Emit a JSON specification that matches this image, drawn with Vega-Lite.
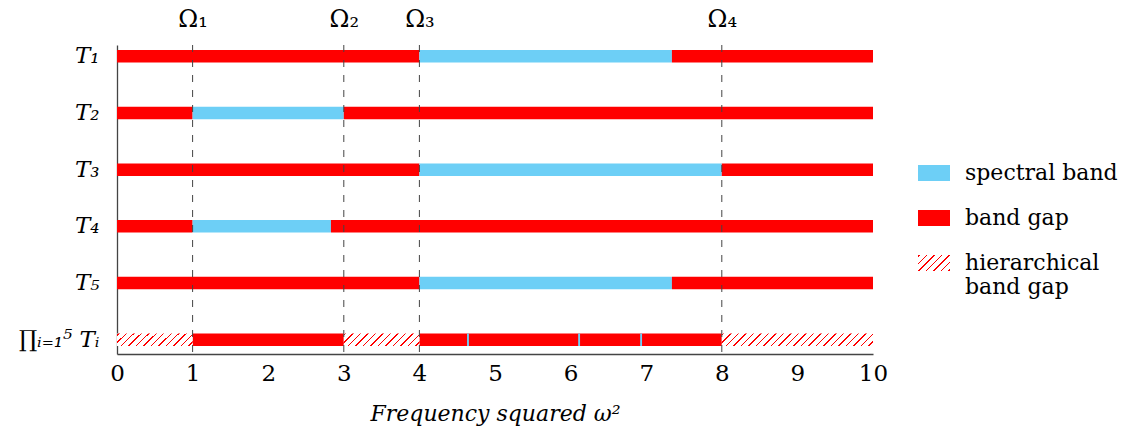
{
  "$schema": "https://vega.github.io/schema/vega-lite/v6.json",
  "width": 756,
  "height": 309,
  "autosize": {"type": "none"},
  "padding": {"left": 117, "top": 45, "right": 260, "bottom": 78},
  "config": {
    "view": {"stroke": null},
    "font": "DejaVu Serif",
    "axis": {"labelFont": "DejaVu Serif", "titleFont": "DejaVu Serif", "labelColor": "#000", "titleColor": "#000", "domainColor": "#444", "domainWidth": 1.3, "grid": false, "ticks": false},
    "legend": {"labelFont": "DejaVu Serif", "titleFont": "DejaVu Serif"}
  },
  "datasets": {
    "segments": [
      {"row": "T₁", "start": 0, "end": 4, "kind": "band gap"},
      {"row": "T₁", "start": 4, "end": 7.34, "kind": "spectral band"},
      {"row": "T₁", "start": 7.34, "end": 10, "kind": "band gap"},
      {"row": "T₂", "start": 0, "end": 1, "kind": "band gap"},
      {"row": "T₂", "start": 1, "end": 3, "kind": "spectral band"},
      {"row": "T₂", "start": 3, "end": 10, "kind": "band gap"},
      {"row": "T₃", "start": 0, "end": 4, "kind": "band gap"},
      {"row": "T₃", "start": 4, "end": 8, "kind": "spectral band"},
      {"row": "T₃", "start": 8, "end": 10, "kind": "band gap"},
      {"row": "T₄", "start": 0, "end": 1, "kind": "band gap"},
      {"row": "T₄", "start": 1, "end": 2.83, "kind": "spectral band"},
      {"row": "T₄", "start": 2.83, "end": 10, "kind": "band gap"},
      {"row": "T₅", "start": 0, "end": 4, "kind": "band gap"},
      {"row": "T₅", "start": 4, "end": 7.34, "kind": "spectral band"},
      {"row": "T₅", "start": 7.34, "end": 10, "kind": "band gap"},
      {"row": "∏ᵢ₌₁⁵ Tᵢ", "start": 0, "end": 1, "kind": "hierarchical band gap"},
      {"row": "∏ᵢ₌₁⁵ Tᵢ", "start": 1, "end": 3, "kind": "band gap"},
      {"row": "∏ᵢ₌₁⁵ Tᵢ", "start": 3, "end": 4, "kind": "hierarchical band gap"},
      {"row": "∏ᵢ₌₁⁵ Tᵢ", "start": 4, "end": 8, "kind": "band gap"},
      {"row": "∏ᵢ₌₁⁵ Tᵢ", "start": 4.63, "end": 4.655, "kind": "spectral band"},
      {"row": "∏ᵢ₌₁⁵ Tᵢ", "start": 6.1, "end": 6.125, "kind": "spectral band"},
      {"row": "∏ᵢ₌₁⁵ Tᵢ", "start": 6.92, "end": 6.945, "kind": "spectral band"},
      {"row": "∏ᵢ₌₁⁵ Tᵢ", "start": 8, "end": 10, "kind": "hierarchical band gap"}
    ],
    "omegas": [
      {"omega": 1, "name": "Ω₁"},
      {"omega": 3, "name": "Ω₂"},
      {"omega": 4, "name": "Ω₃"},
      {"omega": 8, "name": "Ω₄"}
    ]
  },
  "layer": [
    {
      "data": {"name": "segments"},
      "transform": [{"filter": "datum.kind != 'hierarchical band gap'"}],
      "mark": {"type": "bar"},
      "encoding": {
        "y": {"field": "row", "type": "nominal", "sort": ["T₁", "T₂", "T₃", "T₄", "T₅", "∏ᵢ₌₁⁵ Tᵢ"],
              "scale": {"type": "band", "paddingInner": 0.78, "paddingOuter": 0.115, "align": 0.385},
              "axis": {"title": null, "labelFontSize": 23, "labelFontStyle": "italic", "labelPadding": 18}},
        "x": {"field": "start", "type": "quantitative", "scale": {"domain": [0, 10], "nice": false},
              "axis": {"orient": "bottom", "values": [0,1,2,3,4,5,6,7,8,9,10], "labelFontSize": 23, "labelPadding": 8, "labelFlush": false,
                       "title": "Frequency squared ω²", "titleFontSize": 22, "titleFontStyle": "italic", "titleFontWeight": "normal", "titlePadding": 18}},
        "x2": {"field": "end"},
        "fill": {"field": "kind", "type": "nominal",
                 "scale": {"domain": ["spectral band", "band gap", "hierarchical band gap"],
                           "range": ["#6dcff6", "#ff0000", {"expr": "{gradient: 'linear', x1: 0, y1: 0, x2: 1.2, y2: 0.6, stops: [{offset: 0, color: '#ffffff'}, {offset: 0.0208, color: '#ffffff'}, {offset: 0.0208, color: '#ff0000'}, {offset: 0.0521, color: '#ff0000'}, {offset: 0.0521, color: '#ffffff'}, {offset: 0.1771, color: '#ffffff'}, {offset: 0.1771, color: '#ff0000'}, {offset: 0.2083, color: '#ff0000'}, {offset: 0.2083, color: '#ffffff'}, {offset: 0.3333, color: '#ffffff'}, {offset: 0.3333, color: '#ff0000'}, {offset: 0.3646, color: '#ff0000'}, {offset: 0.3646, color: '#ffffff'}, {offset: 0.4896, color: '#ffffff'}, {offset: 0.4896, color: '#ff0000'}, {offset: 0.5208, color: '#ff0000'}, {offset: 0.5208, color: '#ffffff'}, {offset: 0.6458, color: '#ffffff'}, {offset: 0.6458, color: '#ff0000'}, {offset: 0.6771, color: '#ff0000'}, {offset: 0.6771, color: '#ffffff'}, {offset: 0.8021, color: '#ffffff'}, {offset: 0.8021, color: '#ff0000'}, {offset: 0.8333, color: '#ff0000'}, {offset: 0.8333, color: '#ffffff'}, {offset: 0.9583, color: '#ffffff'}, {offset: 0.9583, color: '#ff0000'}, {offset: 0.9896, color: '#ff0000'}, {offset: 0.9896, color: '#ffffff'}, {offset: 1, color: '#ffffff'}]}"}]},
                 "legend": {"orient": "none", "legendX": 801, "legendY": 112, "title": null,
                            "symbolType": "M-1,-0.5H1V0.5H-1Z", "symbolSize": 1024, "symbolStrokeWidth": 0,
                            "labelFontSize": 22, "labelFont": "DejaVu Serif", "labelColor": "#000", "labelOffset": 15, "labelLimit": 300,
                            "rowPadding": 18,
                            "labelExpr": "datum.label == 'hierarchical band gap' ? ['hierarchical', 'band gap'] : datum.label"}}
      }
    },
    {
      "data": {"name": "segments"},
      "transform": [{"filter": "datum.kind == 'hierarchical band gap' && datum.end - datum.start < 1.5"}],
      "mark": {"type": "bar", "fill": {"gradient": "linear", "x1": 0, "y1": 0, "x2": 1.1343, "y2": 0.1875, "stops": [
        {"offset": 0, "color": "#ffffff"},
        {"offset": 0.0114, "color": "#ffffff"}, {"offset": 0.0114, "color": "#ff0000"}, {"offset": 0.0284, "color": "#ff0000"}, {"offset": 0.0284, "color": "#ffffff"},
        {"offset": 0.0965, "color": "#ffffff"}, {"offset": 0.0965, "color": "#ff0000"}, {"offset": 0.1135, "color": "#ff0000"}, {"offset": 0.1135, "color": "#ffffff"},
        {"offset": 0.1816, "color": "#ffffff"}, {"offset": 0.1816, "color": "#ff0000"}, {"offset": 0.1986, "color": "#ff0000"}, {"offset": 0.1986, "color": "#ffffff"},
        {"offset": 0.2667, "color": "#ffffff"}, {"offset": 0.2667, "color": "#ff0000"}, {"offset": 0.2837, "color": "#ff0000"}, {"offset": 0.2837, "color": "#ffffff"},
        {"offset": 0.3519, "color": "#ffffff"}, {"offset": 0.3519, "color": "#ff0000"}, {"offset": 0.3689, "color": "#ff0000"}, {"offset": 0.3689, "color": "#ffffff"},
        {"offset": 0.4370, "color": "#ffffff"}, {"offset": 0.4370, "color": "#ff0000"}, {"offset": 0.4540, "color": "#ff0000"}, {"offset": 0.4540, "color": "#ffffff"},
        {"offset": 0.5221, "color": "#ffffff"}, {"offset": 0.5221, "color": "#ff0000"}, {"offset": 0.5391, "color": "#ff0000"}, {"offset": 0.5391, "color": "#ffffff"},
        {"offset": 0.6073, "color": "#ffffff"}, {"offset": 0.6073, "color": "#ff0000"}, {"offset": 0.6243, "color": "#ff0000"}, {"offset": 0.6243, "color": "#ffffff"},
        {"offset": 0.6924, "color": "#ffffff"}, {"offset": 0.6924, "color": "#ff0000"}, {"offset": 0.7094, "color": "#ff0000"}, {"offset": 0.7094, "color": "#ffffff"},
        {"offset": 0.7775, "color": "#ffffff"}, {"offset": 0.7775, "color": "#ff0000"}, {"offset": 0.7945, "color": "#ff0000"}, {"offset": 0.7945, "color": "#ffffff"},
        {"offset": 0.8627, "color": "#ffffff"}, {"offset": 0.8627, "color": "#ff0000"}, {"offset": 0.8797, "color": "#ff0000"}, {"offset": 0.8797, "color": "#ffffff"},
        {"offset": 0.9478, "color": "#ffffff"}, {"offset": 0.9478, "color": "#ff0000"}, {"offset": 0.9648, "color": "#ff0000"}, {"offset": 0.9648, "color": "#ffffff"},
        {"offset": 1, "color": "#ffffff"}
      ]}},
      "encoding": {
        "y": {"field": "row", "type": "nominal", "sort": ["T₁", "T₂", "T₃", "T₄", "T₅", "∏ᵢ₌₁⁵ Tᵢ"]},
        "x": {"field": "start", "type": "quantitative", "axis": null},
        "x2": {"field": "end"}
      }
    },
    {
      "data": {"name": "segments"},
      "transform": [{"filter": "datum.kind == 'hierarchical band gap' && datum.end - datum.start >= 1.5"}],
      "mark": {"type": "bar", "fill": {"gradient": "linear", "x1": 0, "y1": 0, "x2": 1.0753, "y2": 0.0889, "stops": [
        {"offset": 0, "color": "#ffffff"},
        {"offset": 0.0061, "color": "#ffffff"}, {"offset": 0.0061, "color": "#ff0000"}, {"offset": 0.0153, "color": "#ff0000"}, {"offset": 0.0153, "color": "#ffffff"},
        {"offset": 0.0519, "color": "#ffffff"}, {"offset": 0.0519, "color": "#ff0000"}, {"offset": 0.0611, "color": "#ff0000"}, {"offset": 0.0611, "color": "#ffffff"},
        {"offset": 0.0977, "color": "#ffffff"}, {"offset": 0.0977, "color": "#ff0000"}, {"offset": 0.1069, "color": "#ff0000"}, {"offset": 0.1069, "color": "#ffffff"},
        {"offset": 0.1436, "color": "#ffffff"}, {"offset": 0.1436, "color": "#ff0000"}, {"offset": 0.1528, "color": "#ff0000"}, {"offset": 0.1528, "color": "#ffffff"},
        {"offset": 0.1894, "color": "#ffffff"}, {"offset": 0.1894, "color": "#ff0000"}, {"offset": 0.1986, "color": "#ff0000"}, {"offset": 0.1986, "color": "#ffffff"},
        {"offset": 0.2352, "color": "#ffffff"}, {"offset": 0.2352, "color": "#ff0000"}, {"offset": 0.2444, "color": "#ff0000"}, {"offset": 0.2444, "color": "#ffffff"},
        {"offset": 0.2810, "color": "#ffffff"}, {"offset": 0.2810, "color": "#ff0000"}, {"offset": 0.2902, "color": "#ff0000"}, {"offset": 0.2902, "color": "#ffffff"},
        {"offset": 0.3268, "color": "#ffffff"}, {"offset": 0.3268, "color": "#ff0000"}, {"offset": 0.3360, "color": "#ff0000"}, {"offset": 0.3360, "color": "#ffffff"},
        {"offset": 0.3726, "color": "#ffffff"}, {"offset": 0.3726, "color": "#ff0000"}, {"offset": 0.3818, "color": "#ff0000"}, {"offset": 0.3818, "color": "#ffffff"},
        {"offset": 0.4184, "color": "#ffffff"}, {"offset": 0.4184, "color": "#ff0000"}, {"offset": 0.4276, "color": "#ff0000"}, {"offset": 0.4276, "color": "#ffffff"},
        {"offset": 0.4643, "color": "#ffffff"}, {"offset": 0.4643, "color": "#ff0000"}, {"offset": 0.4735, "color": "#ff0000"}, {"offset": 0.4735, "color": "#ffffff"},
        {"offset": 0.5101, "color": "#ffffff"}, {"offset": 0.5101, "color": "#ff0000"}, {"offset": 0.5193, "color": "#ff0000"}, {"offset": 0.5193, "color": "#ffffff"},
        {"offset": 0.5559, "color": "#ffffff"}, {"offset": 0.5559, "color": "#ff0000"}, {"offset": 0.5651, "color": "#ff0000"}, {"offset": 0.5651, "color": "#ffffff"},
        {"offset": 0.6017, "color": "#ffffff"}, {"offset": 0.6017, "color": "#ff0000"}, {"offset": 0.6109, "color": "#ff0000"}, {"offset": 0.6109, "color": "#ffffff"},
        {"offset": 0.6475, "color": "#ffffff"}, {"offset": 0.6475, "color": "#ff0000"}, {"offset": 0.6567, "color": "#ff0000"}, {"offset": 0.6567, "color": "#ffffff"},
        {"offset": 0.6933, "color": "#ffffff"}, {"offset": 0.6933, "color": "#ff0000"}, {"offset": 0.7025, "color": "#ff0000"}, {"offset": 0.7025, "color": "#ffffff"},
        {"offset": 0.7392, "color": "#ffffff"}, {"offset": 0.7392, "color": "#ff0000"}, {"offset": 0.7484, "color": "#ff0000"}, {"offset": 0.7484, "color": "#ffffff"},
        {"offset": 0.7850, "color": "#ffffff"}, {"offset": 0.7850, "color": "#ff0000"}, {"offset": 0.7942, "color": "#ff0000"}, {"offset": 0.7942, "color": "#ffffff"},
        {"offset": 0.8308, "color": "#ffffff"}, {"offset": 0.8308, "color": "#ff0000"}, {"offset": 0.8400, "color": "#ff0000"}, {"offset": 0.8400, "color": "#ffffff"},
        {"offset": 0.8766, "color": "#ffffff"}, {"offset": 0.8766, "color": "#ff0000"}, {"offset": 0.8858, "color": "#ff0000"}, {"offset": 0.8858, "color": "#ffffff"},
        {"offset": 0.9224, "color": "#ffffff"}, {"offset": 0.9224, "color": "#ff0000"}, {"offset": 0.9316, "color": "#ff0000"}, {"offset": 0.9316, "color": "#ffffff"},
        {"offset": 0.9682, "color": "#ffffff"}, {"offset": 0.9682, "color": "#ff0000"}, {"offset": 0.9774, "color": "#ff0000"}, {"offset": 0.9774, "color": "#ffffff"},
        {"offset": 1, "color": "#ffffff"}
      ]}},
      "encoding": {
        "y": {"field": "row", "type": "nominal", "sort": ["T₁", "T₂", "T₃", "T₄", "T₅", "∏ᵢ₌₁⁵ Tᵢ"]},
        "x": {"field": "start", "type": "quantitative", "axis": null},
        "x2": {"field": "end"}
      }
    },
    {
      "data": {"name": "omegas"},
      "mark": {"type": "rule", "color": "#444", "strokeWidth": 1, "strokeDash": [7, 8]},
      "encoding": {
        "x": {"field": "omega", "type": "quantitative",
              "axis": {"orient": "top", "values": [1, 3, 4, 8], "domain": false, "ticks": false, "title": null,
                       "labelFontSize": 24, "labelPadding": 14, "labelFlush": false,
                       "labelExpr": "['', 'Ω₁', '', 'Ω₂', 'Ω₃', '', '', '', 'Ω₄'][datum.value]"}}
      }
    }
  ],
  "resolve": {"axis": {"x": "independent"}}
}
